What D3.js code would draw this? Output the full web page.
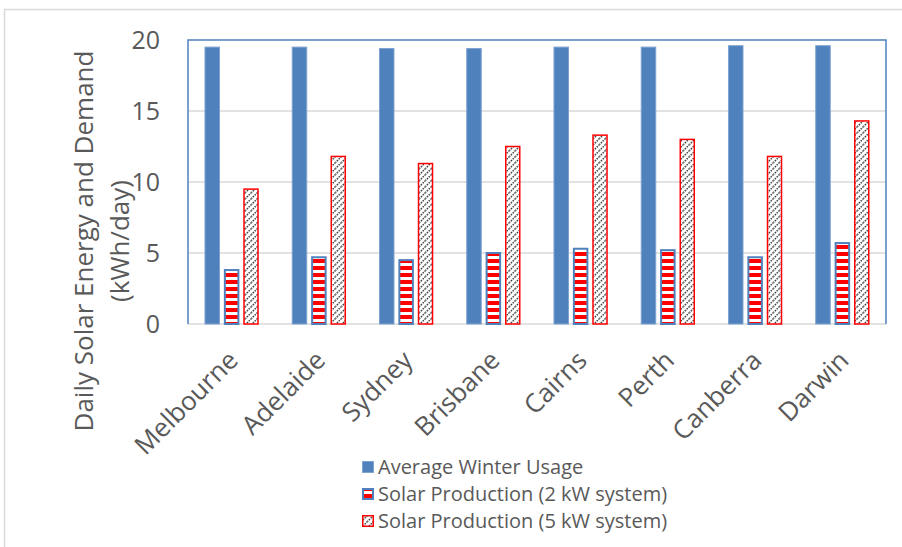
<!DOCTYPE html>
<html><head><meta charset="utf-8">
<script src="https://cdn.jsdelivr.net/npm/d3@7"></script>
<style>body{margin:0;background:#fff}svg{display:block;font-family:"Open Sans",sans-serif}</style>
</head><body><svg id="c" width="902" height="547"></svg>
<script>
const categories = ["Melbourne","Adelaide","Sydney","Brisbane","Cairns","Perth","Canberra","Darwin"];
const seriesNames = ["Average Winter Usage","Solar Production (2 kW system)","Solar Production (5 kW system)"];
const usage = [19.5,19.5,19.4,19.4,19.5,19.5,19.6,19.6];
const solar2kW = [3.8,4.7,4.5,5.0,5.3,5.2,4.7,5.7];
const solar5kW = [9.5,11.8,11.3,12.5,13.3,13.0,11.8,14.3];
const yTicks = [0,5,10,15,20];

const svg = d3.select("#c");
const M = {l:188, r:886, t:40, b:324};
const defs = svg.append("defs");
const ps = defs.append("pattern").attr("id","stripes").attr("patternUnits","userSpaceOnUse").attr("width",8).attr("height",7);
ps.append("rect").attr("width",8).attr("height",7).attr("fill","#fff");
ps.append("rect").attr("width",8).attr("height",4).attr("fill","#ff0000");
const ph = defs.append("pattern").attr("id","hatch").attr("patternUnits","userSpaceOnUse").attr("width",6).attr("height",6);
ph.append("rect").attr("width",6).attr("height",6).attr("fill","#fff");
ph.append("path").attr("d","M-1,7 L7,-1 M-1,1 L1,-1 M5,7 L7,5").attr("stroke","#444").attr("stroke-width",1.5).attr("stroke-dasharray","1.6,1");

// outer frame (partial)
svg.append("path").attr("d","M4.5,547 V9.5 H902").attr("fill","none").attr("stroke","#d9d9d9").attr("stroke-width",1.5);

const x0 = d3.scaleBand().domain(categories).range([M.l,M.r]);
const x1 = d3.scaleBand().domain([0,1,2]).range([0,x0.bandwidth()]).paddingInner(0.2).paddingOuter(0.85);
const y = d3.scaleLinear().domain([0,20]).range([M.b,M.t]);

// gridlines
svg.append("g").selectAll("line").data(yTicks.filter(d=>d>0&&d<20)).join("line")
  .attr("x1",M.l).attr("x2",M.r).attr("y1",d=>y(d)).attr("y2",d=>y(d))
  .attr("stroke","#d9d9d9").attr("stroke-width",1.5);
svg.append("line").attr("x1",M.l).attr("x2",M.r).attr("y1",M.b).attr("y2",M.b).attr("stroke","#d9d9d9").attr("stroke-width",1.5);

const series = [usage, solar2kW, solar5kW];
const styles = [
  {fill:"#4f81bd", stroke:"#7fa3d0", sw:1},
  {fill:"url(#stripes)", stroke:"#4f81bd", sw:2},
  {fill:"url(#hatch)", stroke:"#ff0000", sw:1.5}
];
series.forEach((vals,si)=>{
  svg.append("g").selectAll("rect").data(vals).join("rect")
    .attr("x",(d,i)=>x0(categories[i])+x1(si)+styles[si].sw/2)
    .attr("width",x1.bandwidth()-styles[si].sw)
    .attr("y",d=>y(d))
    .attr("height",d=>y(0)-y(d))
    .attr("fill",styles[si].fill).attr("stroke",styles[si].stroke).attr("stroke-width",styles[si].sw);
});

// plot frame
svg.append("path").attr("d",`M${M.l},${M.b} V${M.t} H${M.r} V${M.b}`).attr("fill","none").attr("stroke","#4f81bd").attr("stroke-width",1.5);

// y axis labels
const yAxis = d3.axisLeft(y).tickValues(yTicks).tickSize(0).tickPadding(0);
const gy = svg.append("g").attr("transform",`translate(160,0)`).call(yAxis);
gy.select(".domain").remove();
gy.selectAll("text").attr("font-size",25).attr("fill","#595959").attr("font-family","Open Sans");

// x axis labels
svg.append("g").selectAll("text").data(categories).join("text")
  .attr("transform",d=>`translate(${x0(d)+x0.bandwidth()/2+8},${362}) rotate(-45)`)
  .attr("text-anchor","end").attr("font-size",26).attr("fill","#595959").text(d=>d);

// y title
const yt = svg.append("text").attr("transform","translate(84,241) rotate(-90)").attr("text-anchor","middle").attr("font-size",26).attr("fill","#595959");
yt.append("tspan").attr("x",0).attr("dy","0.35em").text("Daily Solar Energy and Demand");
yt.append("tspan").attr("x",0).attr("dy",36).text("(kWh/day)");

// legend
const lg = svg.append("g").selectAll("g").data(seriesNames).join("g")
  .attr("transform",(d,i)=>`translate(362,${467+i*27})`);
lg.append("rect").attr("x",(d,i)=>styles[i].sw/2).attr("y",(d,i)=>-6+styles[i].sw/2)
  .attr("width",(d,i)=>12-styles[i].sw).attr("height",(d,i)=>12-styles[i].sw)
  .attr("fill",(d,i)=>styles[i].fill).attr("stroke",(d,i)=>styles[i].stroke).attr("stroke-width",(d,i)=>styles[i].sw);
lg.append("text").attr("x",16).attr("dy","0.35em").attr("font-size",20).attr("fill","#595959").text(d=>d);
</script></body></html>
